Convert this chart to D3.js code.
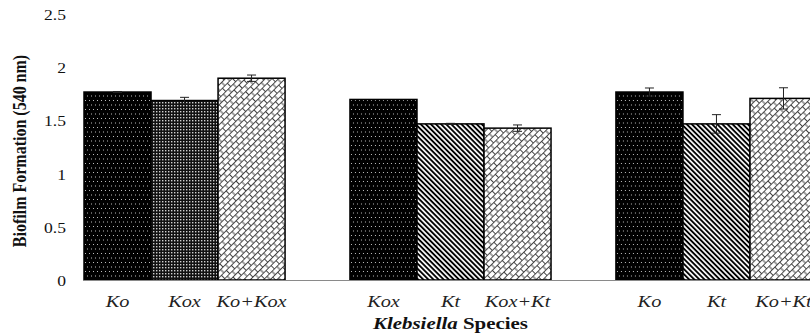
<!DOCTYPE html>
<html>
<head>
<meta charset="utf-8">
<script src="https://cdn.jsdelivr.net/npm/d3@7"></script>
<style>
  body { margin: 0; background: #fff; overflow: hidden; }
  svg { display: block; font-family: "Liberation Serif", "Times New Roman", serif; }
</style>
</head>
<body>
<div id="chart"></div>
<script>
// data
var groups = ["A", "B", "C"];
var barLabels = [["Ko", "Kox", "Ko+Kox"], ["Kox", "Kt", "Kox+Kt"], ["Ko", "Kt", "Ko+Kt"]];
var values = [[1.77, 1.69, 1.90], [1.70, 1.47, 1.43], [1.77, 1.47, 1.71]];
var errors = [[0.005, 0.03, 0.03], [0, 0.005, 0.03], [0.038, 0.087, 0.1]];
var yTicks = [0, 0.5, 1, 1.5, 2, 2.5];

var w = 810, h = 333;

var svg = d3.select("#chart").append("svg")
    .attr("width", w)
    .attr("height", h);

/* fill patterns */
var defs = svg.append("defs");

var dots = defs.append("pattern").attr("id", "dots")
    .attr("patternUnits", "userSpaceOnUse").attr("width", 8).attr("height", 9);
dots.append("rect").attr("width", 8).attr("height", 9).attr("fill", "#000");
[[1, 1], [5, 1], [3, 5.5], [7, 5.5]].forEach(function (p) {
    dots.append("rect").attr("x", p[0]).attr("y", p[1]).attr("width", 1).attr("height", 1).attr("fill", "#bbb");
});

var check = defs.append("pattern").attr("id", "check")
    .attr("patternUnits", "userSpaceOnUse").attr("width", 3).attr("height", 3);
check.append("rect").attr("width", 3).attr("height", 3).attr("fill", "#111");
check.append("rect").attr("width", 1.4).attr("height", 1.4).attr("fill", "#cfcfcf");

var stripes = defs.append("pattern").attr("id", "stripes")
    .attr("patternUnits", "userSpaceOnUse").attr("width", 10).attr("height", 3.6)
    .attr("patternTransform", "rotate(45)");
stripes.append("rect").attr("width", 10).attr("height", 3.6).attr("fill", "#fff");
stripes.append("line").attr("x1", 0).attr("x2", 10).attr("y1", 1.8).attr("y2", 1.8)
    .attr("stroke", "#000").attr("stroke-width", 1.9);

var brick = defs.append("pattern").attr("id", "brick")
    .attr("patternUnits", "userSpaceOnUse").attr("width", 7).attr("height", 9.4)
    .attr("patternTransform", "rotate(-45)");
brick.append("rect").attr("width", 7).attr("height", 9.4).attr("fill", "#fff");
brick.append("path")
    .attr("d", "M0,0.5H7M0,5.2H7M0.5,0.5V5.2M4,5.2V9.4")
    .attr("stroke", "#333").attr("stroke-width", 0.9).attr("fill", "none");

function fillFor(gi, bi) {
    if (bi === 0) return "url(#dots)";
    if (bi === 2) return "url(#brick)";
    return gi === 0 ? "url(#check)" : "url(#stripes)";
}

/* scales */
var x0 = d3.scaleBand().domain(groups).range([84, 817]).paddingInner(0.244).paddingOuter(0);
var x1 = d3.scaleBand().domain([0, 1, 2]).range([0, x0.bandwidth()]).padding(0);
var y = d3.scaleLinear().domain([0, 2.5]).range([280, 14.5]);

/* y axis, labels only */
var tsx = 1.17;
var yAxis = svg.append("g")
    .attr("transform", "translate(84,0)")
    .call(d3.axisLeft(y).tickValues(yTicks).tickSize(0).tickFormat(function (d) { return d; }));
yAxis.select(".domain").remove();
yAxis.selectAll("text")
    .attr("x", -18 / tsx)
    .attr("dy", "0.35em")
    .attr("transform", "scale(" + tsx + ",1)")
    .style("font-family", "Liberation Serif")
    .style("font-size", "15px")
    .style("fill", "#111");

/* bars */
var gBars = svg.selectAll(".grp")
    .data(groups)
    .enter().append("g")
    .attr("class", "grp")
    .attr("transform", function (d) { return "translate(" + x0(d) + ",0)"; });

gBars.selectAll("rect")
    .data(function (d, gi) {
        return values[gi].map(function (v, bi) {
            return {gi: gi, bi: bi, v: v, e: errors[gi][bi], label: barLabels[gi][bi]};
        });
    })
    .enter().append("rect")
    .attr("x", function (d) { return x1(d.bi); })
    .attr("y", function (d) { return y(d.v); })
    .attr("width", x1.bandwidth())
    .attr("height", function (d) { return y(0) - y(d.v); })
    .attr("fill", function (d) { return fillFor(d.gi, d.bi); })
    .attr("stroke", "#000")
    .attr("stroke-width", 1.5);

/* baseline */
svg.append("line")
    .attr("x1", 83).attr("x2", w)
    .attr("y1", y(0) + 0.5).attr("y2", y(0) + 0.5)
    .attr("stroke", "#8a8a8a").attr("stroke-width", 1);

/* error bars */
var eb = gBars.selectAll(".err")
    .data(function (d, gi) {
        return values[gi].map(function (v, bi) {
            return {bi: bi, v: v, e: errors[gi][bi]};
        }).filter(function (d) { return d.e > 0; });
    })
    .enter().append("g")
    .attr("class", "err")
    .attr("stroke", "#222")
    .attr("stroke-width", 1);
eb.append("line")
    .attr("x1", function (d) { return x1(d.bi) + x1.bandwidth() / 2; })
    .attr("x2", function (d) { return x1(d.bi) + x1.bandwidth() / 2; })
    .attr("y1", function (d) { return y(d.v + d.e); })
    .attr("y2", function (d) { return y(d.v - d.e); });
eb.selectAll(".cap")
    .data(function (d) { return [d.v + d.e, d.v - d.e].map(function (t) { return {bi: d.bi, t: t}; }); })
    .enter().append("line")
    .attr("x1", function (d) { return x1(d.bi) + x1.bandwidth() / 2 - 4.5; })
    .attr("x2", function (d) { return x1(d.bi) + x1.bandwidth() / 2 + 4.5; })
    .attr("y1", function (d) { return y(d.t); })
    .attr("y2", function (d) { return y(d.t); });

/* bar labels */
gBars.selectAll(".lbl")
    .data(function (d, gi) { return barLabels[gi].map(function (t, bi) { return {bi: bi, t: t}; }); })
    .enter().append("text")
    .attr("class", "lbl")
    .attr("transform", function (d) {
        return "translate(" + (x1(d.bi) + x1.bandwidth() / 2) + ",306.5) scale(1.16,1)";
    })
    .attr("text-anchor", "middle")
    .style("font-style", "italic")
    .style("font-size", "17.5px")
    .style("fill", "#222")
    .text(function (d) { return d.t; });

/* axis titles */
var xt = svg.append("text")
    .attr("transform", "translate(" + ((84 + 817) / 2) + ",329) scale(1.23,1)")
    .attr("text-anchor", "middle")
    .style("font-weight", "bold")
    .style("font-size", "17px")
    .style("fill", "#111");
xt.append("tspan").style("font-style", "italic").text("Klebsiella");
xt.append("tspan").text(" Species");

svg.append("text")
    .attr("transform", "translate(25.5,151) scale(1.15,1) rotate(-90)")
    .attr("text-anchor", "middle")
    .style("font-weight", "bold")
    .style("font-size", "16px")
    .style("fill", "#111")
    .text("Biofilm Formation (540 nm)");
</script>
</body>
</html>
